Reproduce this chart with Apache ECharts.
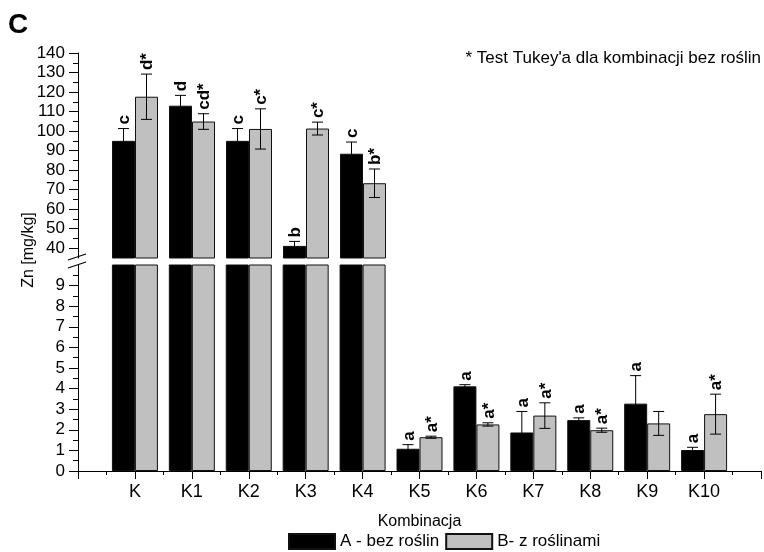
<!DOCTYPE html>
<html>
<head>
<meta charset="utf-8">
<script src="https://cdn.jsdelivr.net/npm/echarts@6/dist/echarts.min.js"></script>
<style>
  html, body { margin: 0; padding: 0; background: #fff; }
  #chart { width: 764px; height: 552px; }
</style>
</head>
<body>
<div id="chart"></div>
<script>
// Zn content per combination, with and without plants (mean ± error)
const categories = ['K', 'K1', 'K2', 'K3', 'K4', 'K5', 'K6', 'K7', 'K8', 'K9', 'K10'];
const meanA = [95.0, 113.0, 95.0, 41.2, 88.4, 1.08, 4.11, 1.87, 2.47, 3.27, 1.02];
const errA = [6.3, 5.3, 6.3, 2.3, 6.0, 0.20, 0.08, 1.02, 0.11, 1.36, 0.13];
const lettersA = ['c', 'd', 'c', 'b', 'c', 'a', 'a', 'a', 'a', 'a', 'a'];
const meanB = [117.6, 104.9, 101.1, 101.3, 73.3, 1.64, 2.26, 2.69, 1.98, 2.31, 2.76];
const errB = [11.6, 4.0, 10.3, 3.3, 7.3, 0.05, 0.08, 0.62, 0.10, 0.58, 0.97];
const lettersB = ['d*', 'cd*', 'c*', 'c*', 'b*', 'a*', 'a*', 'a*', 'a*', '', 'a*'];
const seriesNames = ['A - bez roślin', 'B- z roślinami'];

// broken value axis: upper segment 35–140, lower segment 0–10
const upperRange = [35, 140];
const lowerRange = [0, 10];
const upperTicks = [40, 50, 60, 70, 80, 90, 100, 110, 120, 130, 140];
const upperMinorTicks = [45, 55, 65, 75, 85, 95, 105, 115, 125, 135];
const lowerTicks = [0, 1, 2, 3, 4, 5, 6, 7, 8, 9];
const lowerMinorTicks = [0.5, 1.5, 2.5, 3.5, 4.5, 5.5, 6.5, 7.5, 8.5, 9.5];

const FONT = '"Liberation Sans", Arial, Helvetica, sans-serif';
const BAR_W = 23;
const COLOR_A = '#000000';
const COLOR_B = '#c0c0c0';

const chart = echarts.init(document.getElementById('chart'), null, { renderer: 'canvas' });

function yAxisMajor(grid, range, ticks) {
  return {
    type: 'value', gridIndex: grid, position: 'left', min: range[0], max: range[1],
    axisLine: { show: true, onZero: false, lineStyle: { color: '#000', width: 1 } },
    axisTick: { show: true, inside: false, length: 9, customValues: ticks, lineStyle: { color: '#000', width: 1 } },
    axisLabel: { show: true, customValues: ticks, margin: 13, color: '#000', fontSize: 17, fontFamily: FONT },
    splitLine: { show: false }
  };
}
function yAxisMinor(grid, range, ticks) {
  return {
    type: 'value', gridIndex: grid, position: 'left', min: range[0], max: range[1],
    axisLine: { show: false, onZero: false },
    axisTick: { show: true, inside: false, length: 5, customValues: ticks, lineStyle: { color: '#000', width: 1 } },
    axisLabel: { show: false },
    splitLine: { show: false }
  };
}

function barSeries(name, values, color, xi, yi) {
  return {
    type: 'bar', name: name, xAxisIndex: xi, yAxisIndex: yi,
    barWidth: BAR_W, barGap: '0%', clip: true,
    itemStyle: { color: color, borderColor: '#111', borderWidth: 1 },
    data: values.map((v, i) => [i, v])
  };
}

// whiskers plus the significance letters, drawn only in the segment holding the mean
function errorSeries(values, errs, letters, offset, xi, yi, range) {
  return {
    type: 'custom', xAxisIndex: xi, yAxisIndex: yi, clip: false, z: 3,
    data: values.map((v, i) => [i, v, errs[i]]),
    renderItem: function (params, api) {
      const x = api.value(0), v = api.value(1), e = api.value(2);
      if (v < range[0] || v > range[1]) return null;
      const top = api.coord([x, v + e]);
      const bot = api.coord([x, v - e]);
      const cx = top[0] + offset;
      const cap = 5.5;
      const ls = { stroke: '#000', lineWidth: 1 };
      const children = [
        { type: 'line', shape: { x1: cx, y1: top[1], x2: cx, y2: bot[1] }, style: ls },
        { type: 'line', shape: { x1: cx - cap, y1: top[1], x2: cx + cap, y2: top[1] }, style: ls },
        { type: 'line', shape: { x1: cx - cap, y1: bot[1], x2: cx + cap, y2: bot[1] }, style: ls }
      ];
      const txt = letters[params.dataIndex];
      if (txt) {
        children.push({
          type: 'text', x: cx + 1, y: top[1] - 4, rotation: Math.PI / 2,
          style: { text: txt, fill: '#000', fontSize: 17, fontWeight: 'bold', fontFamily: FONT,
                   align: 'left', verticalAlign: 'middle' }
        });
      }
      return { type: 'group', children: children };
    }
  };
}

const option = {
  animation: false,
  backgroundColor: '#ffffff',
  grid: [
    { left: 78, top: 53, width: 684, height: 205 },
    { left: 78, top: 265, width: 684, height: 206 }
  ],
  xAxis: [
    { type: 'value', gridIndex: 0, min: -1, max: 11, interval: 1, show: false },
    {
      type: 'value', gridIndex: 1, min: -1, max: 11, interval: 1,
      name: 'Kombinacja', nameLocation: 'middle', nameGap: 43,
      nameTextStyle: { color: '#000', fontSize: 16, fontFamily: FONT },
      axisLine: { show: true, onZero: false, lineStyle: { color: '#000', width: 1 } },
      axisTick: { show: true, inside: false, length: 8, lineStyle: { color: '#000', width: 1 } },
      minorTick: { show: true, splitNumber: 2, length: 4, lineStyle: { color: '#000', width: 1 } },
      axisLabel: {
        margin: 12, color: '#000', fontSize: 18, fontFamily: FONT,
        showMinLabel: true, showMaxLabel: true,
        formatter: (v) => (categories[v] !== undefined ? categories[v] : '')
      },
      splitLine: { show: false }, minorSplitLine: { show: false }
    }
  ],
  yAxis: [
    yAxisMajor(0, upperRange, upperTicks),
    yAxisMinor(0, upperRange, upperMinorTicks),
    yAxisMajor(1, lowerRange, lowerTicks),
    yAxisMinor(1, lowerRange, lowerMinorTicks)
  ],
  legend: {
    data: seriesNames, left: 288, top: 533, icon: 'rect', padding: 0,
    itemWidth: 46, itemHeight: 15, itemGap: 6,
    textStyle: { color: '#000', fontSize: 17, fontFamily: FONT }
  },
  graphic: [
    { type: 'text', x: 8, y: 25, style: { text: 'C', fill: '#000', fontSize: 28, fontWeight: 'bold', fontFamily: FONT, verticalAlign: 'middle' } },
    { type: 'text', x: 761, y: 58, style: { text: "* Test Tukey'a dla kombinacji bez roślin", fill: '#000', fontSize: 17, fontFamily: FONT, align: 'right', verticalAlign: 'middle' } },
    { type: 'text', x: 29, y: 250, rotation: Math.PI / 2, style: { text: 'Zn [mg/kg]', fill: '#000', fontSize: 16, fontFamily: FONT, align: 'center', verticalAlign: 'middle' } },
    // axis break marks
    { type: 'line', shape: { x1: 68, y1: 260, x2: 86, y2: 254 }, style: { stroke: '#000', lineWidth: 1.2 } },
    { type: 'line', shape: { x1: 68, y1: 268, x2: 86, y2: 262 }, style: { stroke: '#000', lineWidth: 1.2 } }
  ],
  series: [
    barSeries(seriesNames[0], meanA, COLOR_A, 0, 0),
    barSeries(seriesNames[1], meanB, COLOR_B, 0, 0),
    barSeries(seriesNames[0], meanA, COLOR_A, 1, 2),
    barSeries(seriesNames[1], meanB, COLOR_B, 1, 2),
    errorSeries(meanA, errA, lettersA, -BAR_W / 2, 0, 0, upperRange),
    errorSeries(meanB, errB, lettersB, BAR_W / 2, 0, 0, upperRange),
    errorSeries(meanA, errA, lettersA, -BAR_W / 2, 1, 2, lowerRange),
    errorSeries(meanB, errB, lettersB, BAR_W / 2, 1, 2, lowerRange)
  ]
};

chart.setOption(option);
</script>
</body>
</html>
